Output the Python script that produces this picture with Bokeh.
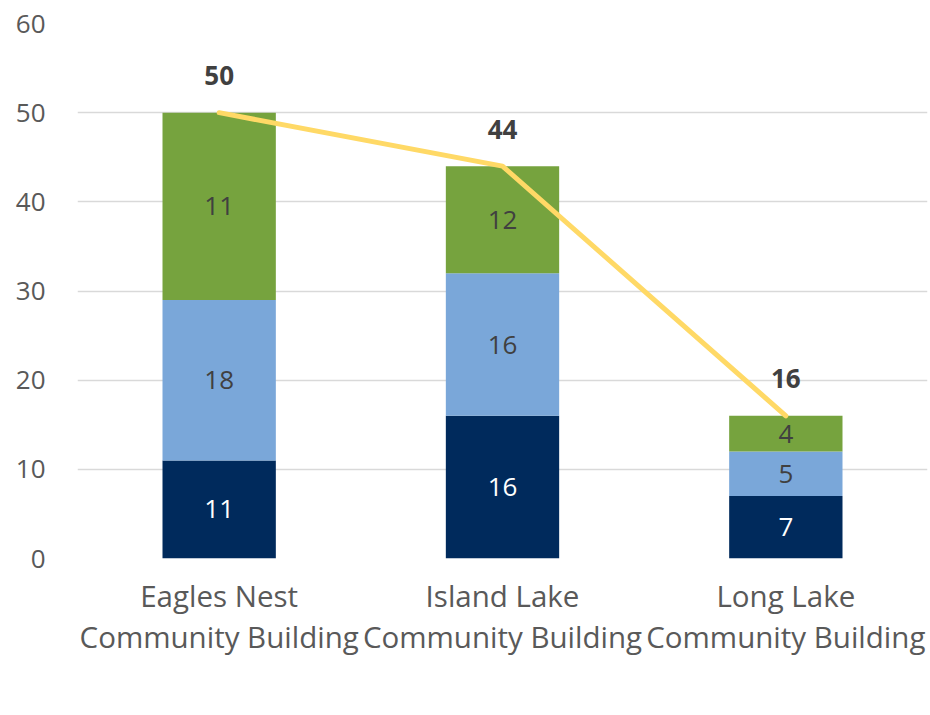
from bokeh.plotting import figure
from bokeh.models import (ColumnDataSource, Legend, LegendItem, FixedTicker, Range1d,
                          LinearAxis)
from bokeh.core.properties import value
from bokeh.embed import file_html
from bokeh.resources import INLINE

categories = ["Eagles Nest Community Building", "Island Lake Community Building", "Long Lake Community Building"]
label_line1 = ["Eagles Nest", "Island Lake", "Long Lake"]
label_line2 = ["Community Building", "Community Building", "Community Building"]
january = [11, 16, 7]
february = [18, 16, 5]
march = [21, 12, 4]
january_labels = ["11", "16", "7"]
february_labels = ["18", "16", "5"]
march_labels = ["11", "12", "4"]
totals = [50, 44, 16]
y_ticks = [0, 10, 20, 30, 40, 50, 60]

C_JAN = "#002a5c"
C_FEB = "#7aa7d9"
C_MAR = "#76a33e"
C_TOT = "#ffd966"
FONT = "Open Sans"
TXT = "#595959"

# category slot index (one slot per category on a linear scale)
slot_index = list(range(len(categories)))

jan_mid = [j / 2 for j in january]
feb_mid = [j + f / 2 for j, f in zip(january, february)]
mar_mid = [j + f + m / 2 for j, f, m in zip(january, february, march)]

src = ColumnDataSource(dict(cat=categories, slot=slot_index, January=january, February=february,
                            March=march, totals=totals, tot_lab=[str(t) for t in totals],
                            jan_mid=jan_mid, feb_mid=feb_mid, mar_mid=mar_mid,
                            jan_lab=january_labels, feb_lab=february_labels, mar_lab=march_labels))

p = figure(x_range=Range1d(-0.5, len(categories) - 0.5), y_range=Range1d(0, 60),
           frame_width=850, frame_height=535,
           min_border_left=77, min_border_top=23, min_border_right=1, min_border_bottom=0,
           x_axis_location=None, output_backend="svg", toolbar_location=None)
p.outline_line_color = None

stack = p.vbar_stack(["January", "February", "March"], x="slot", width=0.4, source=src,
                     color=[C_JAN, C_FEB, C_MAR], line_color=None)
line = p.line(x="slot", y="totals", source=src, line_color=C_TOT, line_width=5, line_cap="round")

for ycol, lab, col in [("jan_mid", "jan_lab", "white"), ("feb_mid", "feb_lab", "#404040"),
                       ("mar_mid", "mar_lab", "#404040")]:
    p.text(x="slot", y=ycol, text=lab, source=src, text_align="center", text_baseline="middle",
           text_font=value(FONT), text_font_size="26px", text_color=col)

p.text(x="slot", y="totals", text="tot_lab", source=src, text_align="center", text_baseline="middle",
       text_font=value(FONT), text_font_size="26px", text_font_style="bold", text_color="#404040",
       y_offset=-37)

p.yaxis.ticker = FixedTicker(ticks=y_ticks)
p.yaxis.axis_line_color = None
p.yaxis.major_tick_line_color = None
p.yaxis.major_tick_out = 0
p.yaxis.minor_tick_line_color = None
p.yaxis.major_label_text_font = FONT
p.yaxis.major_label_text_font_size = "26px"
p.yaxis.major_label_text_color = TXT
p.yaxis.major_label_standoff = 32

def make_xaxis(lines, standoff):
    ax = LinearAxis(ticker=FixedTicker(ticks=slot_index),
                    major_label_overrides={i: t for i, t in zip(slot_index, lines)})
    ax.axis_line_color = None
    ax.major_tick_line_color = None
    ax.minor_tick_line_color = None
    ax.major_tick_out = 0
    ax.major_tick_in = 0
    ax.minor_tick_out = 0
    ax.minor_tick_in = 0
    ax.major_label_text_font = FONT
    ax.major_label_text_font_size = "29.5px"
    ax.major_label_text_color = TXT
    ax.major_label_standoff = standoff
    p.add_layout(ax, "below")

make_xaxis(label_line1, 16)
make_xaxis(label_line2, -3)

p.xgrid.grid_line_color = None
p.ygrid.ticker = FixedTicker(ticks=y_ticks)
p.ygrid.grid_line_color = "#d9d9d9"
p.ygrid.grid_line_width = 1.5

legend = Legend(items=[LegendItem(label="January", renderers=[stack[0]]),
                       LegendItem(label="February", renderers=[stack[1]]),
                       LegendItem(label="March", renderers=[stack[2]]),
                       LegendItem(label="Totals", renderers=[line])],
                orientation="horizontal", location="center", border_line_color=None,
                background_fill_alpha=0, glyph_width=51, glyph_height=20, label_standoff=4,
                spacing=40, padding=4, margin=0, label_text_font=FONT,
                label_text_font_size="28px", label_text_color=TXT)
p.add_layout(legend, "below")

open("out.html", "w").write(file_html(p, INLINE))
